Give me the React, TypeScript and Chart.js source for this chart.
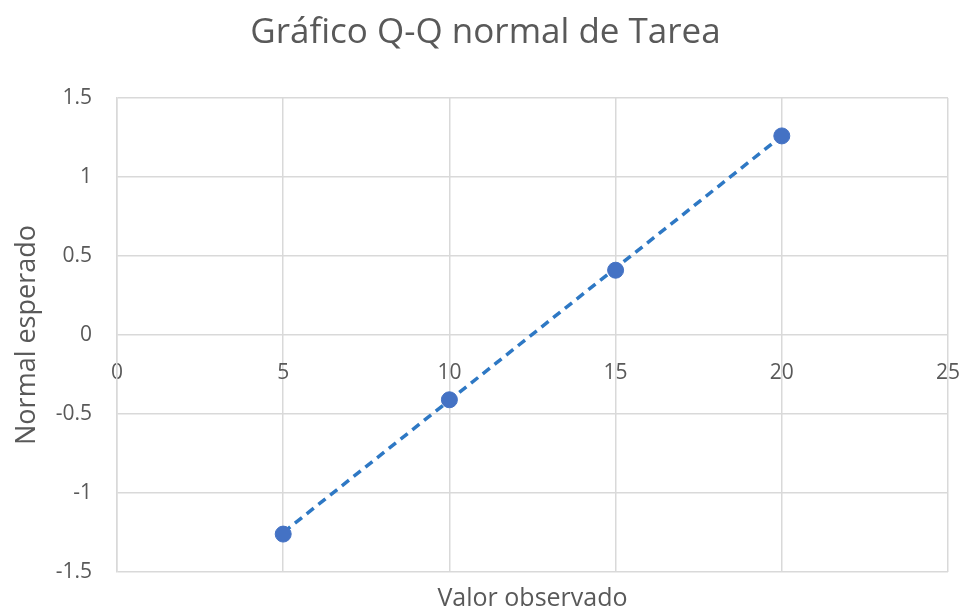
import React, { useEffect, useRef } from "react";
import { Chart, registerables } from "chart.js";

Chart.register(...registerables);

const observedValues = [5, 10, 15, 20];
const expectedNormal = [-1.26, -0.41, 0.41, 1.26];
const trendX = [5, 20];
const trendY = [-1.25, 1.26];
const xTicks = [0, 5, 10, 15, 20, 25];
const yTicks = [-1.5, -1, -0.5, 0, 0.5, 1, 1.5];

const FONT = "'Open Sans', sans-serif";
const GREY = "#595959";
const GRID = "#d9d9d9";

export default function App() {
  const ref = useRef<HTMLCanvasElement | null>(null);

  useEffect(() => {
    document.body.style.margin = "0";
    const ctx = ref.current!;
    const chart = new Chart(ctx, {
      type: "scatter",
      data: {
        datasets: [
          {
            label: "Tarea",
            data: observedValues.map((x, i) => ({ x, y: expectedNormal[i] })),
            backgroundColor: "#4472C4",
            borderColor: "#4472C4",
            pointRadius: 8,
            pointHoverRadius: 8,
            showLine: false,
          },
          {
            label: "Tendencia",
            data: trendX.map((x, i) => ({ x, y: trendY[i] })),
            borderColor: "#2E78C4",
            borderWidth: 3.5,
            borderDash: [9, 6],
            pointRadius: 0,
            showLine: true,
            fill: false,
          },
        ],
      },
      options: {
        animation: false,
        responsive: false,
        layout: { padding: 0 },
        plugins: {
          legend: { display: false },
          tooltip: { enabled: false },
          title: {
            display: true,
            text: "Gráfico Q-Q normal de Tarea",
            color: GREY,
            font: { family: FONT, size: 35, weight: "normal" },
            padding: { top: 12, bottom: 44 },
          },
        },
        scales: {
          x: {
            type: "linear",
            position: "bottom",
            min: 0,
            max: 25,
            afterBuildTicks: (s: any) => {
              s.ticks = xTicks.map((v) => ({ value: v }));
            },
            afterFit: (s: any) => {
              s.paddingLeft = 0;
              s.paddingRight = 23;
            },
            grid: { color: GRID, lineWidth: 1.5, drawTicks: false },
            border: { display: false },
            ticks: { display: false },
            title: {
              display: true,
              text: "Valor observado",
              color: GREY,
              font: { family: FONT, size: 25 },
              padding: { top: 12, bottom: 1 },
            },
          },
          xLabels: {
            type: "linear",
            axis: "x",
            position: { y: 0 },
            min: 0,
            max: 25,
            afterBuildTicks: (s: any) => {
              s.ticks = xTicks.map((v) => ({ value: v }));
            },
            afterFit: (s: any) => {
              s.paddingLeft = 0;
              s.paddingRight = 0;
            },
            grid: { display: false, drawTicks: false },
            border: { display: false },
            ticks: {
              color: GREY,
              font: { family: FONT, size: 21 },
              padding: 25,
              callback: (v: any) => String(v),
            },
          },
          y: {
            type: "linear",
            position: "left",
            min: -1.5,
            max: 1.5,
            afterBuildTicks: (s: any) => {
              s.ticks = yTicks.map((v) => ({ value: v }));
            },
            afterFit: (s: any) => {
              s.width = 117;
            },
            grid: { color: GRID, lineWidth: 1.5, drawTicks: false },
            border: { color: GRID, width: 1.5 },
            ticks: {
              color: GREY,
              font: { family: FONT, size: 21 },
              padding: 25,
              callback: (v: any) => String(v),
            },
            title: {
              display: true,
              text: "Normal esperado",
              color: GREY,
              font: { family: FONT, size: 27 },
              padding: { top: 11, bottom: 4 },
            },
          },
        },
      },
    } as any);
    return () => chart.destroy();
  }, []);

  return (
    <div style={{ width: 971, height: 615 }}>
      <canvas ref={ref} width={971} height={615} style={{ display: "block" }} />
    </div>
  );
}
